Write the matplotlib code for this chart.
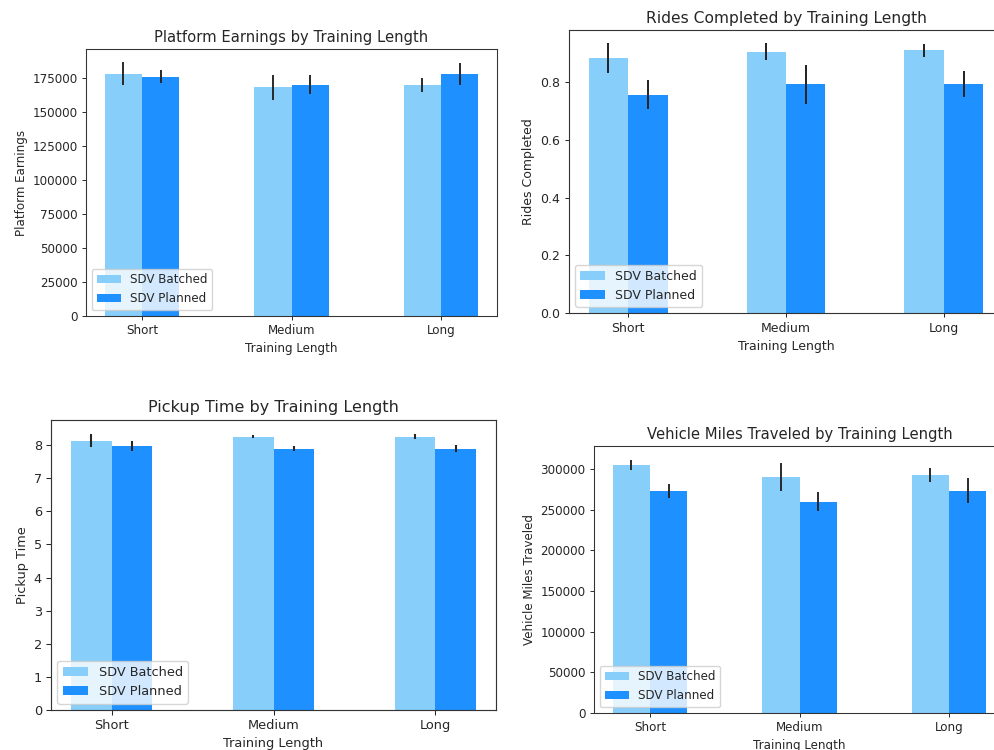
import matplotlib
matplotlib.use("Agg")
import matplotlib.pyplot as plt
import numpy as np

# Training length groups and the two SDV strategies
categories = ["Short", "Medium", "Long"]
series_names = ["SDV Batched", "SDV Planned"]

earnings_batched = [178000, 168000, 170000]
earnings_planned = [176000, 170000, 178000]
earnings_err_batched = [8500, 9200, 5200]
earnings_err_planned = [4500, 7000, 8000]

rides_batched = [0.883, 0.906, 0.911]
rides_planned = [0.757, 0.793, 0.793]
rides_err_batched = [0.052, 0.030, 0.022]
rides_err_planned = [0.050, 0.067, 0.045]

pickup_batched = [8.13, 8.26, 8.26]
pickup_planned = [7.98, 7.89, 7.89]
pickup_err_batched = [0.20, 0.05, 0.07]
pickup_err_planned = [0.15, 0.07, 0.11]

vmt_batched = [305000, 290000, 293000]
vmt_planned = [273500, 260000, 273500]
vmt_err_batched = [6500, 17200, 9000]
vmt_err_planned = [8800, 11800, 15500]

colors = ["lightskyblue", "dodgerblue"]
W, H = 994, 750

fig = plt.figure(figsize=(W / 100, H / 100), dpi=100)


def panel(box, fs, ylim, batched, planned, err_b, err_p, ylabel, title):
    # box is (left, top, right, bottom) in pixels, fs is the base font size
    l, t, r, b = box
    ax = fig.add_axes([l / W, 1 - b / H, (r - l) / W, (b - t) / H])
    k = fs / 10
    x = np.arange(len(categories))
    width = 0.25
    ekw = dict(ecolor="#262626", elinewidth=1.6 * k, capsize=0)
    ax.bar(x - width / 2, batched, width, yerr=err_b, color=colors[0],
           label=series_names[0], error_kw=ekw)
    ax.bar(x + width / 2, planned, width, yerr=err_p, color=colors[1],
           label=series_names[1], error_kw=ekw)
    ax.set_xlim(-0.375, 2.375)
    ax.set_ylim(*ylim)
    ax.set_xticks(x)
    ax.set_xticklabels(categories)
    ax.tick_params(labelsize=fs, length=3.5 * k, width=0.8 * k,
                   colors="#262626", pad=3.5 * k)
    for sp in ax.spines.values():
        sp.set_linewidth(0.9 * k)
        sp.set_color("#333333")
    ax.set_xlabel("Training Length", fontsize=fs, color="#262626",
                  labelpad=4 * k)
    ax.set_ylabel(ylabel, fontsize=fs, color="#262626", labelpad=4 * k)
    ax.set_title(title, fontsize=fs * 1.24, color="#262626", pad=6 * k)
    leg = ax.legend(loc="lower left", fontsize=fs, framealpha=0.8,
                    borderaxespad=0.5)
    for txt in leg.get_texts():
        txt.set_color("#262626")
    return ax


panel((86, 49, 497, 316), 8.6, (0, 196300),
      earnings_batched, earnings_planned, earnings_err_batched,
      earnings_err_planned, "Platform Earnings",
      "Platform Earnings by Training Length")

panel((569, 30, 1003, 313), 9.0, (0, 0.981),
      rides_batched, rides_planned, rides_err_batched, rides_err_planned,
      "Rides Completed", "Rides Completed by Training Length")

panel((51, 420, 496, 710), 9.3, (0, 8.76),
      pickup_batched, pickup_planned, pickup_err_batched, pickup_err_planned,
      "Pickup Time", "Pickup Time by Training Length")

panel((594, 446, 1005, 713), 8.6, (0, 328600),
      vmt_batched, vmt_planned, vmt_err_batched, vmt_err_planned,
      "Vehicle Miles Traveled", "Vehicle Miles Traveled by Training Length")

fig.savefig("out.png", dpi=100)
